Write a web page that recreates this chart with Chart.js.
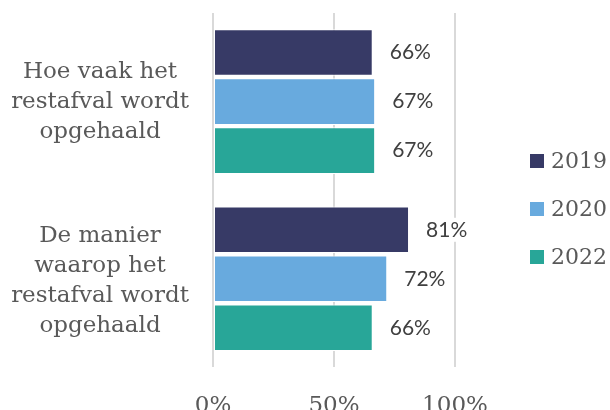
<!DOCTYPE html>
<html>
<head>
<meta charset="utf-8">
<script src="https://cdn.jsdelivr.net/npm/chart.js@4"></script>
<style>
  html, body { margin: 0; padding: 0; background: #fff; overflow: hidden; }
  #clip { width: 610px; height: 410px; overflow: hidden; position: relative; }
  #wrap { width: 610px; height: 445px; position: relative; }
</style>
</head>
<body>
<div id="clip"><div id="wrap"><canvas id="chart"></canvas></div></div>
<script>
// categorieen en reeksen
const categories = [
    ["Hoe vaak het", "restafval wordt", "opgehaald"],
    ["De manier", "waarop het", "restafval wordt", "opgehaald"]
];
const years = ["2019", "2020", "2022"];
const values2019 = [66, 81];
const values2020 = [67, 72];
const values2022 = [67, 66];
const xTicks = [0, 50, 100];

const colors = ["#373a66", "#68aade", "#28a698"];
const serif = "'DejaVu Serif', serif";
const grey = "#595959";

// labels naast de balken, met witte achtergrond
const barLabels = {
    id: "barLabels",
    afterDatasetsDraw(chart) {
        const ctx = chart.ctx;
        ctx.save();
        ctx.font = "21px Lato, sans-serif";
        ctx.textBaseline = "middle";
        ctx.textAlign = "left";
        chart.data.datasets.forEach((ds, i) => {
            chart.getDatasetMeta(i).data.forEach((bar, j) => {
                const txt = ds.data[j] + "%";
                const x = bar.x + 17;
                const w = ctx.measureText(txt).width;
                ctx.fillStyle = "#fff";
                ctx.fillRect(x - 4, bar.y - 12, w + 8, 24);
                ctx.fillStyle = "#404040";
                ctx.fillText(txt, x, bar.y);
            });
        });
        ctx.restore();
    }
};

// categorie-labels links, gecentreerd op meerdere regels
const catLabels = {
    id: "catLabels",
    afterDraw(chart) {
        const ctx = chart.ctx;
        const y = chart.scales.y;
        const lh = 30;
        ctx.save();
        ctx.font = "23px " + serif;
        ctx.fillStyle = grey;
        ctx.textAlign = "center";
        ctx.textBaseline = "middle";
        chart.data.labels.forEach((lines, i) => {
            const cy = y.getPixelForValue(i) + i * 2;
            const top = cy - (lines.length - 1) * lh / 2;
            lines.forEach((l, k) => ctx.fillText(l, 100, top + k * lh));
        });
        ctx.restore();
    }
};

// legenda rechts
const sideLegend = {
    id: "sideLegend",
    afterDraw(chart) {
        const ctx = chart.ctx;
        ctx.save();
        ctx.font = "22px " + serif;
        ctx.textBaseline = "middle";
        ctx.textAlign = "left";
        chart.data.datasets.forEach((ds, i) => {
            const cy = 161 + i * 48;
            ctx.fillStyle = ds.backgroundColor;
            ctx.fillRect(530, cy - 7, 14, 14);
            ctx.fillStyle = grey;
            ctx.fillText(ds.label, 551, cy + 1);
        });
        ctx.restore();
    }
};

const series = [values2019, values2020, values2022];

new Chart(document.getElementById("chart"), {
    type: "bar",
    data: {
        labels: categories,
        datasets: years.map((y, i) => ({
            label: y,
            data: series[i],
            backgroundColor: colors[i],
            borderColor: "#fff",
            borderWidth: 1,
            borderSkipped: false,
            barPercentage: 0.95,
            categoryPercentage: 0.83
        }))
    },
    options: {
        indexAxis: "y",
        responsive: true,
        maintainAspectRatio: false,
        animation: false,
        layout: { padding: { top: 13, left: 0, right: 155 } },
        plugins: {
            legend: { display: false },
            tooltip: { enabled: false }
        },
        scales: {
            x: {
                min: 0,
                max: 100,
                afterBuildTicks: (axis) => { axis.ticks = xTicks.map(v => ({ value: v })); },
                ticks: {
                    callback: (v) => v + "%",
                    font: { family: serif, size: 23 },
                    color: grey,
                    padding: 25,
                    maxRotation: 0
                },
                grid: { color: "#d9d9d9", lineWidth: 2, drawTicks: false },
                border: { display: false }
            },
            y: {
                afterFit: (axis) => { axis.width = 213; },
                ticks: { display: false },
                grid: { display: false, drawTicks: false },
                border: { display: false }
            }
        }
    },
    plugins: [barLabels, catLabels, sideLegend]
});
</script>
</body>
</html>
